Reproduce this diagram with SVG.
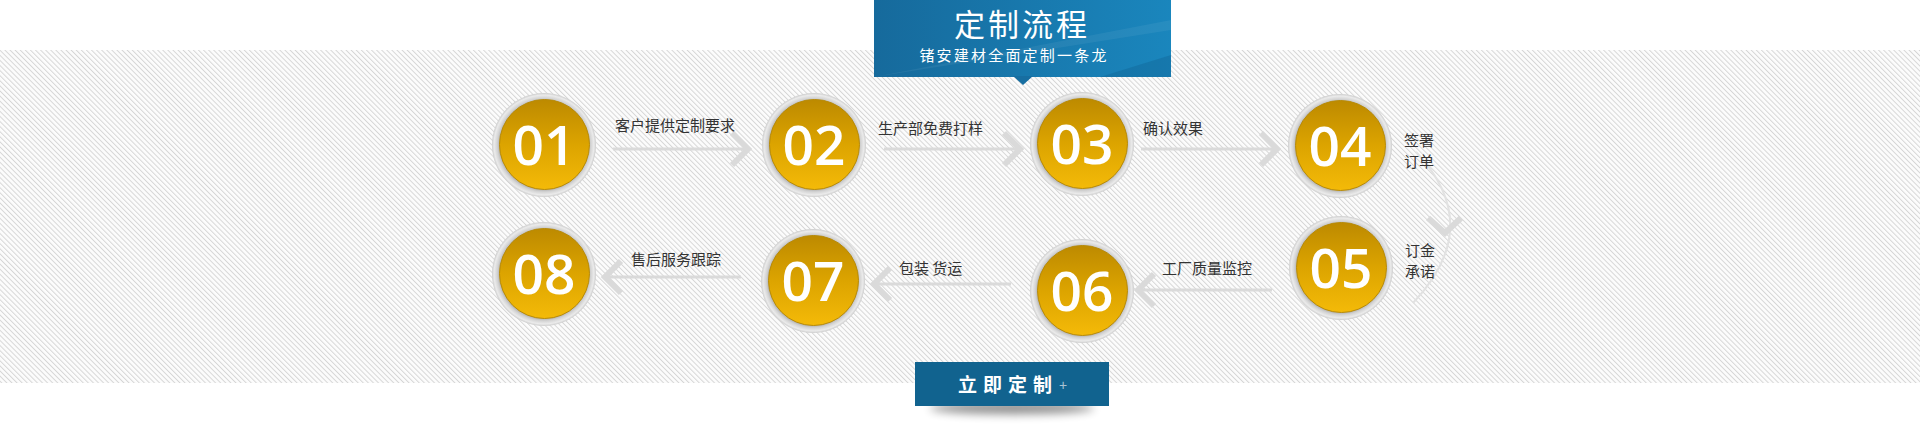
<svg xmlns="http://www.w3.org/2000/svg" width="1920" height="427" viewBox="0 0 1920 427">
<style>
.lbl{font-family:"Noto Sans CJK SC","Liberation Sans",sans-serif;font-size:15px;fill:#333}
.num{font-family:"Open Sans","DejaVu Sans",sans-serif;font-size:55px;font-weight:600;fill:#fff;text-anchor:middle}
.ln{stroke:#dadada;stroke-width:3;fill:none}
.chev{stroke:#dadada;stroke-width:6;fill:none;stroke-linejoin:miter}
.ring{fill:url(#silver)}
.gold{fill:url(#goldg);stroke:#b88b08;stroke-width:1}
</style>
<defs>
<pattern id="diag" width="3.6" height="10" patternUnits="userSpaceOnUse" patternTransform="rotate(-45)">
<line x1="0.5" y1="0" x2="0.5" y2="10" stroke="#d6d6d6" stroke-width="1"/>
</pattern>
<linearGradient id="hdr" x1="0" y1="0" x2="1" y2="0">
<stop offset="0" stop-color="#166a9c"/>
<stop offset="1" stop-color="#1a86bd"/>
</linearGradient>
<radialGradient id="silver" cx="0.5" cy="0.5" r="0.5">
<stop offset="0.84" stop-color="#a9a9a9"/>
<stop offset="0.9" stop-color="#d3d3d3"/>
<stop offset="0.96" stop-color="#ebebeb"/>
<stop offset="1" stop-color="#cdcdcd"/>
</radialGradient>
<linearGradient id="goldg" x1="0" y1="0" x2="0" y2="1">
<stop offset="0" stop-color="#bd8a00"/>
<stop offset="0.5" stop-color="#dca400"/>
<stop offset="1" stop-color="#f4ba08"/>
</linearGradient>
<filter id="blur" x="-20%" y="-100%" width="140%" height="300%">
<feGaussianBlur stdDeviation="5"/>
</filter>
</defs>
<rect x="0" y="0" width="1920" height="427" fill="#fff"/>
<rect x="0" y="50" width="1920" height="333" fill="#fcfcfc"/>
<rect x="0" y="50" width="1920" height="333" fill="url(#diag)"/>

<g id="header">
<rect x="874" y="0" width="297" height="77" fill="url(#hdr)"/>
<polygon points="874,77 1171,20 1171,30 874,77" fill="#ffffff" opacity="0.06"/>
<polygon points="1100,77 1171,55 1171,77" fill="#0d5a88" opacity="0.3"/>
<polygon points="1013,76 1033,76 1023,85" fill="#176ea1"/>
<text x="1022" y="36" font-family="Noto Sans CJK SC,sans-serif" font-size="31" fill="#fff" text-anchor="middle" letter-spacing="3">定制流程</text>
<text x="1014" y="61" font-family="Noto Sans CJK SC,sans-serif" font-size="15" fill="#fff" text-anchor="middle" letter-spacing="2.2">锗安建材全面定制一条龙</text>
</g>

<g id="connectors">
<line class="ln" x1="613" y1="149" x2="747" y2="149"/>
<polyline class="chev" points="732,133 748,149 732,165"/>
<line class="ln" x1="884" y1="149" x2="1019" y2="149"/>
<polyline class="chev" points="1004,133 1020,149 1004,165"/>
<line class="ln" x1="1141" y1="149" x2="1276" y2="149"/>
<polyline class="chev" points="1261,133 1277,149 1261,165"/>
<path d="M1416,152 Q1486,226 1413,303" stroke="#e2e2e2" stroke-width="2" fill="none"/>
<polyline class="chev" points="1428,218 1445,233 1461,218"/>
<line class="ln" x1="1139" y1="290" x2="1272" y2="290"/>
<polyline class="chev" points="1154,274 1138,290 1154,306"/>
<line class="ln" x1="875" y1="284" x2="1011" y2="284"/>
<polyline class="chev" points="890,268 874,284 890,300"/>
<line class="ln" x1="606" y1="277" x2="741" y2="277"/>
<polyline class="chev" points="621,261 605,277 621,293"/>
<text class="lbl" x="615" y="131">客户提供定制要求</text>
<text class="lbl" x="878" y="134">生产部免费打样</text>
<text class="lbl" x="1143" y="134">确认效果</text>
<text class="lbl" x="1404" y="146">签署</text>
<text class="lbl" x="1404" y="167">订单</text>
<text class="lbl" x="1405" y="256">订金</text>
<text class="lbl" x="1405" y="277">承诺</text>
<text class="lbl" x="1162" y="274">工厂质量监控</text>
<text class="lbl" x="899" y="274">包装 货运</text>
<text class="lbl" x="631" y="265">售后服务跟踪</text>
</g>

<g id="n01"><circle class="ring" cx="544" cy="145" r="52"/><circle class="gold" cx="544.5" cy="144.5" r="45"/><text class="num" x="544" y="165">01</text></g>
<g id="n02"><circle class="ring" cx="814" cy="145" r="52"/><circle class="gold" cx="814.5" cy="144.5" r="45"/><text class="num" x="814" y="165">02</text></g>
<g id="n03"><circle class="ring" cx="1082" cy="144" r="52"/><circle class="gold" cx="1082.5" cy="143.5" r="45"/><text class="num" x="1082" y="164">03</text></g>
<g id="n04"><circle class="ring" cx="1340" cy="146" r="52"/><circle class="gold" cx="1340.5" cy="145.5" r="45"/><text class="num" x="1340" y="166">04</text></g>
<g id="n05"><circle class="ring" cx="1341" cy="268" r="52"/><circle class="gold" cx="1341.5" cy="267.5" r="45"/><text class="num" x="1341" y="288">05</text></g>
<g id="n06"><circle class="ring" cx="1082" cy="291" r="52"/><circle class="gold" cx="1082.5" cy="290.5" r="45"/><text class="num" x="1082" y="311">06</text></g>
<g id="n07"><circle class="ring" cx="813" cy="281" r="52"/><circle class="gold" cx="813.5" cy="280.5" r="45"/><text class="num" x="813" y="301">07</text></g>
<g id="n08"><circle class="ring" cx="544" cy="274" r="52"/><circle class="gold" cx="544.5" cy="273.5" r="45"/><text class="num" x="544" y="294">08</text></g>

<g id="button">
<ellipse cx="1012" cy="408" rx="82" ry="6" fill="#000" opacity="0.45" filter="url(#blur)"/>
<rect x="915" y="362" width="194" height="44" fill="#11638f"/>
<text x="958" y="392" font-family="Noto Sans CJK SC,sans-serif" font-size="19" font-weight="bold" fill="#fff" letter-spacing="6">立即定制</text>
<text x="1063" y="390" font-family="Liberation Sans,sans-serif" font-size="14" fill="#a9c3d3" text-anchor="middle">+</text>
</g>
</svg>
